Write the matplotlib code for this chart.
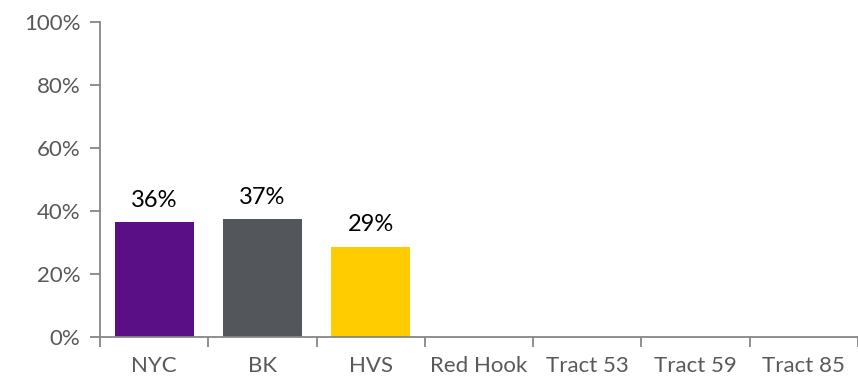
import matplotlib
matplotlib.use("Agg")
import matplotlib.pyplot as plt
from matplotlib.ticker import PercentFormatter

# data
categorias = ["NYC", "BK", "HVS", "Red Hook", "Tract 53", "Tract 59", "Tract 85"]
valores = [0.366, 0.375, 0.287, None, None, None, None]
rotulos = ["36%", "37%", "29%", None, None, None, None]
cores = ["#5a0f87", "#53565a", "#ffcc00", None, None, None, None]

plt.rcParams["font.family"] = ["Lato", "DejaVu Sans"]

fig = plt.figure(figsize=(8.58, 3.81), dpi=100)
ax = fig.add_axes([100 / 858, 1 - 337 / 381, 1 - 100 / 858, (337 - 22) / 381])

x = list(range(len(categorias)))
for i, v in enumerate(valores):
    if v is None:
        continue
    ax.bar(i, v, width=0.73, color=cores[i])
    ax.annotate(rotulos[i], xy=(i, v), xytext=(0, 8), textcoords="offset points",
                ha="center", va="bottom", fontsize=17, color="black")

ax.set_ylim(0, 1)
ax.set_yticks([0, 0.2, 0.4, 0.6, 0.8, 1.0])
ax.yaxis.set_major_formatter(PercentFormatter(1.0, decimals=0))
ax.set_xlim(-0.5, 6.5 - 7 / 109)
ax.set_xticks(x)
ax.set_xticklabels(categorias)
ax.set_xticks([i - 0.5 for i in range(len(categorias) + 1)], minor=True)

gris = "#868686"
for s in ["top", "right"]:
    ax.spines[s].set_visible(False)
ax.spines["left"].set_color(gris)
ax.spines["bottom"].set_color(gris)
ax.spines["left"].set_linewidth(1.3)
ax.spines["bottom"].set_linewidth(1.3)

ax.tick_params(axis="y", length=7, width=1.3, color=gris, labelsize=16, labelcolor="#595959", pad=7)
ax.tick_params(axis="x", which="major", length=0, labelsize=16, labelcolor="#595959", pad=14)
ax.tick_params(axis="x", which="minor", length=7, width=1.3, color=gris)

fig.savefig("out.png", dpi=100)
